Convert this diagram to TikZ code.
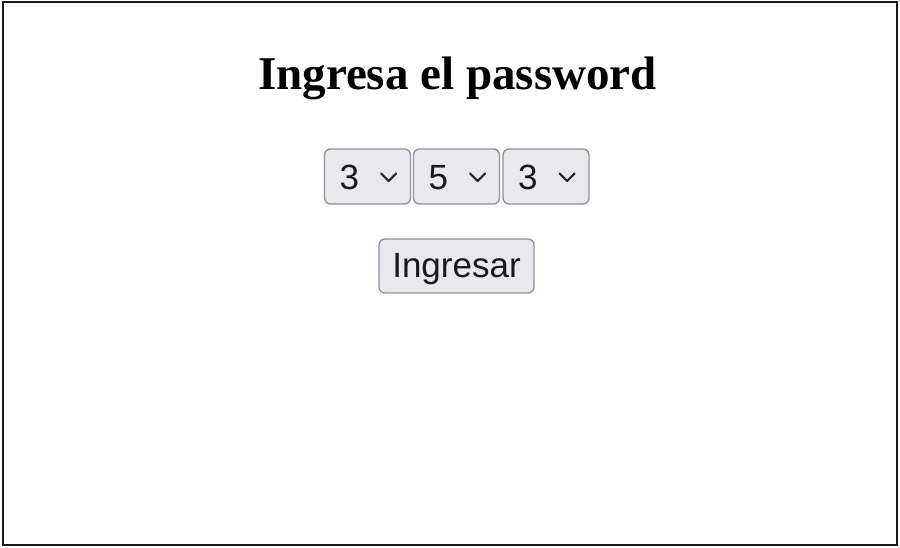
\documentclass[tikz,border=0pt]{standalone}
\usepackage{fontspec}
\setmainfont{Liberation Serif}
\setsansfont{Liberation Sans}
\usepackage{tikz}
\usetikzlibrary{positioning,calc}
\definecolor{btnfill}{HTML}{E9E9ED}
\definecolor{btnline}{HTML}{8F8F9D}
\tikzstyle{sel}= [rectangle, draw=btnline, fill=btnfill, line width=1.3pt, rounded corners=6pt, minimum width=86pt, minimum height=55pt, inner sep=0pt]
\tikzstyle{digit}= [font=\sffamily\fontsize{35}{35}\selectfont, text=black!90, inner sep=0pt, anchor=base]
\tikzstyle{chev}= [draw=black!85, line width=2.2pt, line cap=round, line join=round]

\begin{document}
\begin{tikzpicture}[x=1pt,y=-1pt]
				\useasboundingbox (0,0) rectangle (900,548);
				\draw[line width=2pt, draw=black!90, fill=white] (2.5,2.5) rectangle (897,545);

				\node[anchor=base, font=\bfseries\fontsize{47}{47}\selectfont] (title) at (457.5,89.5) {Ingresa el password};

				\node[sel] (S1) at (367.5,176.5) {};
				\node[sel] (S2) at (456.5,176.5) {};
				\node[sel] (S3) at (546,176.5) {};

				\node[digit] (d1) at ($(S1.west)+(25.5,13)$) {3};
				\node[digit] (d2) at ($(S2.west)+(25.5,13)$) {5};
				\node[digit] (d3) at ($(S3.west)+(25.5,13)$) {3};
				\draw[chev] ($(S1.east)+(-30,-3)$) -- ++(7.5,7.5) -- ++(7.5,-7.5);
				\draw[chev] ($(S2.east)+(-30,-3)$) -- ++(7.5,7.5) -- ++(7.5,-7.5);
				\draw[chev] ($(S3.east)+(-30,-3)$) -- ++(7.5,7.5) -- ++(7.5,-7.5);

				\node[sel, minimum width=155pt, minimum height=54pt] (btn) at (456.5,266) {};
				\node[digit] (lbl) at ($(btn.center)+(0,12)$) {Ingresar};
			\end{tikzpicture}
\end{document}
